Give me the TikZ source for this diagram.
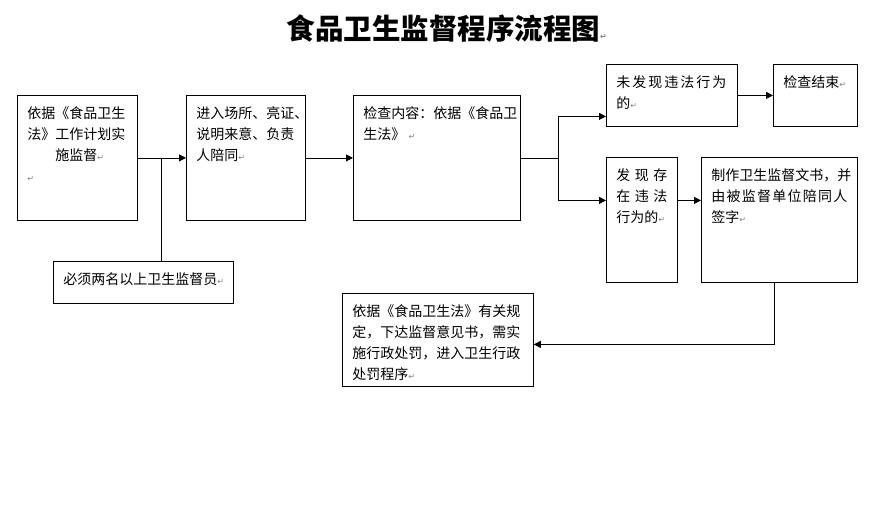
\documentclass[tikz,border=0pt]{standalone}
\usepackage{fontspec}
\setmainfont{Noto Sans CJK SC}
\newfontfamily\retfont{DejaVu Sans}
\usetikzlibrary{arrows.meta, positioning, calc}

\newcommand{\retmark}{{\retfont\fontsize{8}{8}\selectfont\textcolor{gray}{↵}}}
\tikzset{
  stepbox/.style={draw, anchor=north west, inner sep=0pt},
  boxtext/.style={anchor=north west, align=left, inner xsep=10pt, inner ysep=11pt, font=\fontsize{14}{21}\selectfont},
}

\begin{document}
\begin{tikzpicture}[x=1pt, y=-1pt, line width=0.8pt, >={Triangle[length=7pt, width=7pt]}]
\useasboundingbox (0,0) rectangle (877,512);
\node (title) at (283,39) [anchor=base west, font=\fontsize{28.5}{30}\selectfont\bfseries] {食品卫生监督程序流程图\retmark};

\node (plan) at (17,95) [stepbox, minimum width=120pt, minimum height=125pt, label={[boxtext]north west:{依据《食品卫生\\法》工作计划实\\\hspace*{28pt}施监督\retmark\\\retmark}}] {};
\node (entry) at (186,95) [stepbox, minimum width=119pt, minimum height=125pt, label={[boxtext]north west:{进入场所、亮证、\\说明来意、负责\\人陪同\retmark}}] {};
\node (check) at (353,95) [stepbox, minimum width=167pt, minimum height=125pt, label={[boxtext]north west:{检查内容：依据《食品卫\\生法》\ \retmark}}] {};
\node (staff) at (53,261) [stepbox, minimum width=180pt, minimum height=42pt, label={[boxtext]north west:{必须两名以上卫生监督员\retmark}}] {};
\node (clean) at (606,64) [stepbox, minimum width=131pt, minimum height=62pt, label={[boxtext]north west:{\makebox[110pt][s]{未\hfill 发\hfill 现\hfill 违\hfill 法\hfill 行\hfill 为}\\的\retmark}}] {};
\node (finish) at (773,64) [stepbox, minimum width=84pt, minimum height=62pt, label={[boxtext]north west:{检查结束\retmark}}] {};
\node (found) at (606,157) [stepbox, minimum width=71pt, minimum height=125pt, label={[boxtext]north west:{发\hspace{4.5pt}现\hspace{4.5pt}存\\在\hspace{4.5pt}违\hspace{4.5pt}法\\行为的\retmark}}] {};
\node (sign) at (701,157) [stepbox, minimum width=156pt, minimum height=125pt, label={[boxtext]north west:{制作卫生监督文书，并\\\makebox[136pt][s]{由\hfill 被\hfill 监\hfill 督\hfill 单\hfill 位\hfill 陪\hfill 同\hfill 人}\\签字\retmark}}] {};
\node (penalty) at (342,293) [stepbox, minimum width=191pt, minimum height=93pt, label={[boxtext]north west:{依据《食品卫生法》有关规\\定，下达监督意见书，需实\\施行政处罚，进入卫生行政\\处罚程序\retmark}}] {};

% main line
\coordinate (split) at ([xshift=24pt]plan.east);
\coordinate (fork) at ([xshift=38pt]check.east);
\draw[->] (plan) -- (entry);
\draw (split) -- (split |- staff.north);
\draw[->] (entry) -- (check);
\draw (check) -- (fork);
% two outcomes
\draw[->] (fork) |- ([yshift=-21pt]clean.west);
\draw[->] (fork) |- ([yshift=19.5pt]found.west);
\draw[->] (clean) -- (finish);
\draw[->] ([yshift=19.5pt]found.east) -- ([yshift=19.5pt]sign.west);
\draw[->] ([xshift=-5pt]sign.south) |- ([yshift=-4.5pt]penalty.east);
\end{tikzpicture}
\end{document}
